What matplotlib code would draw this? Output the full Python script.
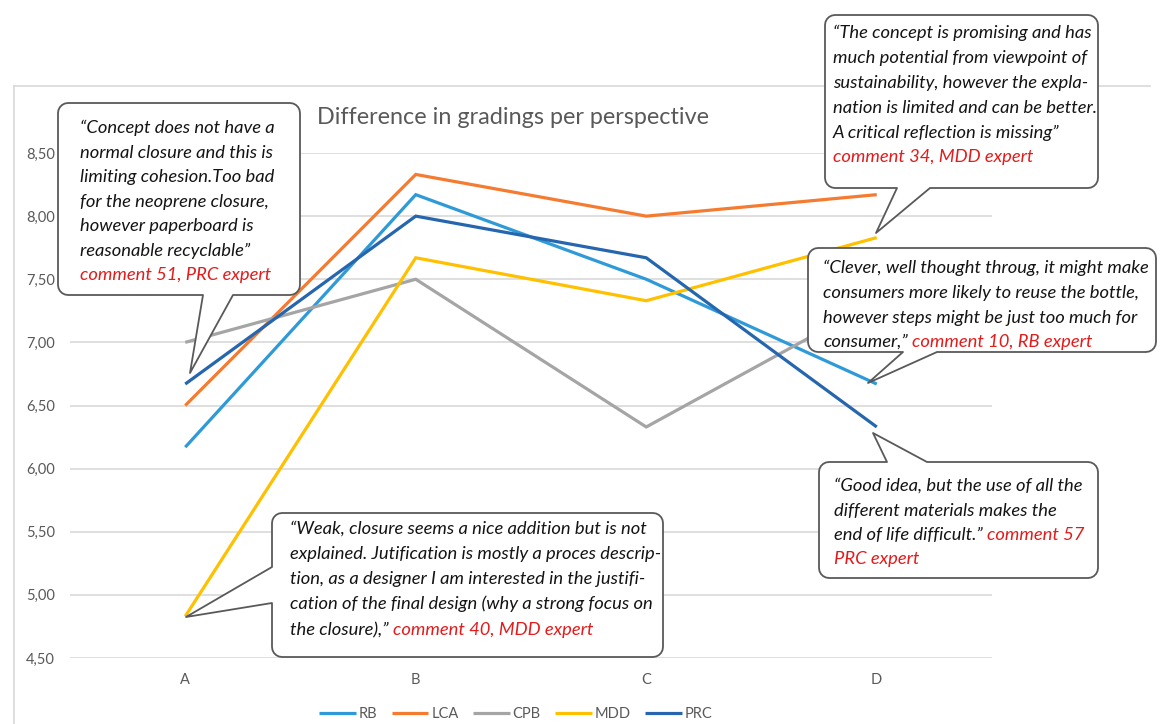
import matplotlib
matplotlib.use('Agg')
import matplotlib.pyplot as plt
import numpy as np
from matplotlib.patches import Polygon

# ---------------- data ----------------
categories = ['A', 'B', 'C', 'D']
rb = [6.17, 8.17, 7.50, 6.67]
lca = [6.50, 8.33, 8.00, 8.17]
cpb = [7.00, 7.50, 6.33, 7.33]
mdd = [4.83, 7.67, 7.33, 7.83]
prc = [6.67, 8.00, 7.67, 6.33]
series_names = ['RB', 'LCA', 'CPB', 'MDD', 'PRC']
series_values = [rb, lca, cpb, mdd, prc]
series_colors = ['#2E9AD8', '#F47B30', '#A5A5A5', '#FFC000', '#2566AE']
yticks = [4.5, 5.0, 5.5, 6.0, 6.5, 7.0, 7.5, 8.0, 8.5]
ytick_labels = ['4,50', '5,00', '5,50', '6,00', '6,50', '7,00', '7,50', '8,00', '8,50']
title = 'Difference in gradings per perspective'

# callout texts: list of lines, each line a list of (text, is_red)
c1_lines = [[('\u201cConcept does not have a', 0)],
            [('normal closure and this is', 0)],
            [('limiting cohesion.Too bad', 0)],
            [('for the neoprene closure,', 0)],
            [('however paperboard is', 0)],
            [('reasonable recyclable\u201d', 0)],
            [('comment 51, PRC expert', 1)]]
c2_lines = [[('\u201cThe concept is promising and has', 0)],
            [('much potential from viewpoint of', 0)],
            [('sustainability, however the expla-', 0)],
            [('nation is limited and can be better.', 0)],
            [('A critical reflection is missing\u201d', 0)],
            [('comment 34, MDD expert', 1)]]
c3_lines = [[('\u201cClever, well thought throug, it might make', 0)],
            [('consumers more likely to reuse the bottle,', 0)],
            [('however steps might be just too much for', 0)],
            [('consumer,\u201d', 0), ('comment 10, RB expert', 1)]]
c4_lines = [[('\u201cGood idea, but the use of all the', 0)],
            [('different materials makes the', 0)],
            [('end of life difficult.\u201d', 0), ('comment 57', 1)],
            [('PRC expert', 1)]]
c5_lines = [[('\u201cWeak, closure seems a nice addition but is not', 0)],
            [('explained. Jutification is mostly a proces descrip-', 0)],
            [('tion, as a designer I am interested in the justifi-', 0)],
            [('cation of the final design (why a strong focus on', 0)],
            [('the closure),\u201d', 0), ('comment 40, MDD expert', 1)]]

# ---------------- figure ----------------
W, H = 1160, 724
fig = plt.figure(figsize=(W / 100, H / 100), dpi=100)
fig.patch.set_facecolor('white')

ax = fig.add_axes([70 / W, (H - 658) / H, 922 / W, 505 / H])
x = np.arange(len(categories))
handles = []
for vals, name, col in zip(series_values, series_names, series_colors):
    ln, = ax.plot(x, vals, color=col, lw=2.3, solid_joinstyle='miter',
                  solid_capstyle='butt', zorder=3, label=name)
    handles.append(ln)
ax.set_xlim(-0.5, len(categories) - 0.5)
ax.set_ylim(4.5, 8.5)
ax.set_yticks(yticks)
ax.set_yticklabels(ytick_labels)
ax.set_xticks(x)
ax.set_xticklabels(categories)
ax.grid(axis='y', color='#D9D9D9', lw=1.2, zorder=0)
ax.grid(axis='x', visible=False)
for s in ax.spines.values():
    s.set_visible(False)
ax.tick_params(axis='both', length=0, colors='#595959', labelsize=10.5)
ax.tick_params(axis='y', pad=11)
ax.tick_params(axis='x', pad=11)
for lab in ax.get_xticklabels() + ax.get_yticklabels():
    lab.set_family('Lato')
ax.patch.set_alpha(0)

# overlay in pixel coords
ov = fig.add_axes([0, 0, 1, 1], zorder=5)
ov.set_xlim(0, W)
ov.set_ylim(H, 0)
ov.axis('off')
ov.patch.set_alpha(0)

# chart frame
ov.plot([14, 14], [H, 86], color='#D9D9D9', lw=1.2)
ov.plot([14, 1150], [86, 86], color='#D9D9D9', lw=1.2)

ov.text(513, 117, title, ha='center', va='center', fontsize=16.8,
        color='#595959', family='Lato')

leg = fig.legend(handles, series_names, loc='center',
                 bbox_to_anchor=(516 / W, 1 - 714 / H), ncol=5, frameon=False,
                 handlelength=2.5, handletextpad=0.2,
                 columnspacing=1.0, prop={'family': 'Lato', 'size': 10.5})
for t in leg.get_texts():
    t.set_color('#595959')


def corner(cx, cy, r, a0, a1, n=6):
    a = np.linspace(np.radians(a0), np.radians(a1), n)
    return [(cx + r * np.cos(t), cy + r * np.sin(t)) for t in a]


def callout(x0, y0, x1, y1, side, b0, b1, tip, r=10):
    pts = []
    pts.append((x0 + r, y0))
    if side == 'top':
        pts += [(b0, y0), tip, (b1, y0)]
    pts.append((x1 - r, y0))
    pts += corner(x1 - r, y0 + r, r, 270, 360)
    pts.append((x1, y1 - r))
    pts += corner(x1 - r, y1 - r, r, 0, 90)
    if side == 'bottom':
        pts += [(b1, y1), tip, (b0, y1)]
    pts.append((x0 + r, y1))
    pts += corner(x0 + r, y1 - r, r, 90, 180)
    if side == 'left':
        pts += [(x0, b1), tip, (x0, b0)]
    pts.append((x0, y0 + r))
    pts += corner(x0 + r, y0 + r, r, 180, 270)
    poly = Polygon(pts, closed=True, facecolor='white', edgecolor='#595959',
                   lw=1.3, joinstyle='round', zorder=6)
    ov.add_patch(poly)


renderer = fig.canvas.get_renderer()


def write(lines, x0, ys, size=13.2):
    for segs, yy in zip(lines, ys):
        cx = x0
        for txt, red in segs:
            t = ov.text(cx, yy, txt, ha='left', va='center', fontsize=size,
                        style='italic', family='Lato',
                        color='#E31B1B' if red else '#141414', zorder=7)
            ext = t.get_window_extent(renderer=renderer)
            cx = ov.transData.inverted().transform((ext.x1, ext.y0))[0] + 4


callout(58, 103, 300, 295, 'bottom', 203, 233, (190, 373))
write(c1_lines, 80, [128, 152.5, 177, 201.5, 226, 250.5, 275])

callout(825, 15, 1098, 188, 'bottom', 897, 930, (876, 233))
write(c2_lines, 833, [33, 58.5, 83, 108, 132.5, 157])

callout(808, 248, 1156, 352, 'bottom', 903, 937, (868, 383))
write(c3_lines, 823, [268, 293, 317.5, 342])

callout(819, 462, 1098, 578, 'top', 887, 927, (873, 433))
write(c4_lines, 834, [486, 510.5, 535, 559])

callout(272, 513, 663, 657, 'left', 567, 603, (186, 617))
write(c5_lines, 290, [529, 554, 579, 604, 630])

fig.savefig('out.png', dpi=100, facecolor='white')
